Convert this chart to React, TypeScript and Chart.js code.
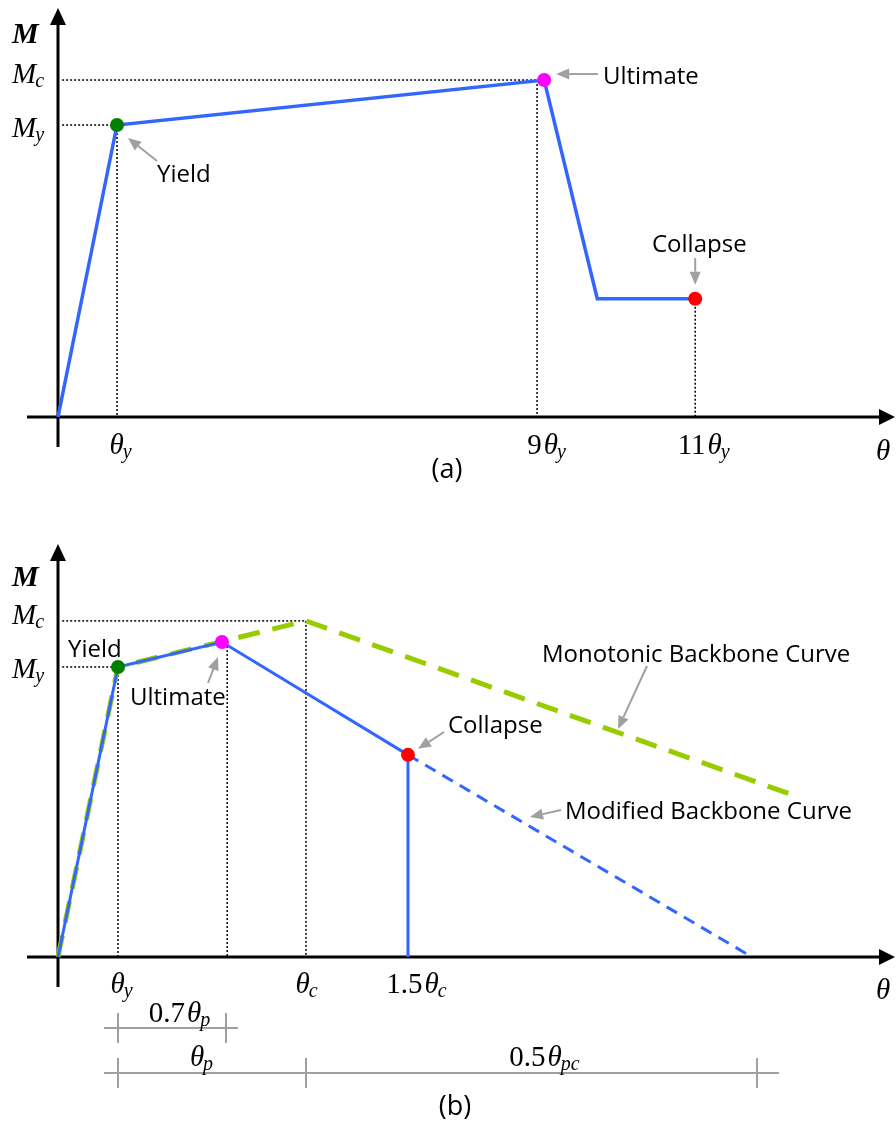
import React, { useEffect, useRef } from "react";
import { Chart, registerables } from "chart.js";
Chart.register(...registerables);

// ---------- Panel (a) data (θ in units of θy, M in units of My; schematic) ----------
const aBackboneX = [0, 1, 8.24, 9.14, 10.8];
const aBackboneY = [0, 1, 1.154, 0.405, 0.405];
const aYield = { x: 1, y: 1 };
const aUltimate = { x: 8.24, y: 1.154 };
const aCollapse = { x: 10.8, y: 0.405 };
const aMy = 1;
const aMc = 1.154;
const aTickValues = [1, 8.12, 10.8];
const aTickLabels: [string, string][][] = [
  [["θ", "i"], ["y", "s"]],
  [["9", "n"], ["θ", "i"], ["y", "s"]],
  [["11", "n"], ["θ", "i"], ["y", "s"]],
];

// ---------- Panel (b) data ----------
const bModX = [0, 1, 2.733, 5.833];
const bModY = [0, 1, 1.086, 0.697];
const bModDashedX = [5.833, 11.567];
const bModDashedY = [0.697, 0];
const bMonoX = [0, 1, 4.133, 12.2];
const bMonoY = [0, 1, 1.159, 0.562];
const bYield = { x: 1, y: 1 };
const bUltimate = { x: 2.733, y: 1.086 };
const bCollapse = { x: 5.833, y: 0.697 };
const bMy = 1;
const bMc = 1.159;
const bUltGuideX = 2.82;
const bTickValues = [1, 4.133, 5.833];
const bTickLabels: [string, string][][] = [
  [["θ", "i"], ["y", "s"]],
  [["θ", "i"], ["c", "s"]],
  [["1.5", "n"], ["θ", "i"], ["c", "s"]],
];
const bDim1Y = -0.245;
const bDim1X = [0.767, 3.0];
const bDim1Ticks = [1, 2.8];
const bDim2Y = -0.4;
const bDim2X = [0.767, 12.017];
const bDim2Ticks = [1, 4.133, 11.65];

const BLUE = "#3366ff";
const GREEN = "#99cc00";
const GRAY = "#a0a0a0";
const SANS = '"Open Sans", "Noto Sans", sans-serif';
const SERIF = '"Liberation Serif", "DejaVu Serif", serif';

type Part = [string, string];

function drawMath(ctx: CanvasRenderingContext2D, parts: Part[], x: number, y: number, align: "left" | "center", size = 29) {
  const subSize = Math.round(size * 0.7);
  const fontFor = (s: string) =>
    s === "n" ? `${size}px ${SERIF}` :
    s === "i" ? `italic ${size}px ${SERIF}` :
    s === "b" ? `italic bold ${size + 1}px ${SERIF}` :
    `italic ${subSize}px ${SERIF}`;
  const gapAfter = (s: string) => (s === "n" ? 2 : 0);
  let total = 0;
  const widths = parts.map(([t, s]) => {
    ctx.font = fontFor(s);
    const w = ctx.measureText(t).width + gapAfter(s);
    total += w;
    return w;
  });
  let cx = align === "center" ? x - total / 2 : x;
  ctx.textAlign = "left";
  ctx.textBaseline = "alphabetic";
  ctx.fillStyle = "#000";
  parts.forEach(([t, s], i) => {
    ctx.font = fontFor(s);
    ctx.fillText(t, s === "s" ? cx - 1 : cx, s === "s" ? y + 4 : y);
    cx += widths[i];
  });
}

function grayArrow(ctx: CanvasRenderingContext2D, x1: number, y1: number, x2: number, y2: number) {
  const ang = Math.atan2(y2 - y1, x2 - x1);
  const hl = 13, hw = 5.5;
  const bx = x2 - hl * Math.cos(ang), by = y2 - hl * Math.sin(ang);
  ctx.save();
  ctx.strokeStyle = GRAY;
  ctx.fillStyle = GRAY;
  ctx.lineWidth = 2;
  ctx.beginPath();
  ctx.moveTo(x1, y1);
  ctx.lineTo(bx, by);
  ctx.stroke();
  ctx.beginPath();
  ctx.moveTo(x2, y2);
  ctx.lineTo(bx + hw * Math.sin(ang), by - hw * Math.cos(ang));
  ctx.lineTo(bx - hw * Math.sin(ang), by + hw * Math.cos(ang));
  ctx.closePath();
  ctx.fill();
  ctx.restore();
}

function sansText(ctx: CanvasRenderingContext2D, t: string, x: number, y: number, align: CanvasTextAlign = "left", size = 24) {
  ctx.font = `${size}px ${SANS}`;
  ctx.fillStyle = "#000";
  ctx.textAlign = align;
  ctx.textBaseline = "alphabetic";
  ctx.fillText(t, x, y);
}

function drawAxes(ctx: CanvasRenderingContext2D, ox: number, oy: number, yTop: number) {
  ctx.save();
  ctx.strokeStyle = "#000";
  ctx.fillStyle = "#000";
  ctx.lineWidth = 3;
  ctx.beginPath();
  ctx.moveTo(27, oy);
  ctx.lineTo(882, oy);
  ctx.moveTo(ox, oy + 30);
  ctx.lineTo(ox, yTop + 14);
  ctx.stroke();
  ctx.beginPath();
  ctx.moveTo(895, oy);
  ctx.lineTo(879, oy - 8);
  ctx.lineTo(879, oy + 8);
  ctx.closePath();
  ctx.fill();
  ctx.beginPath();
  ctx.moveTo(ox, yTop);
  ctx.lineTo(ox - 8, yTop + 17);
  ctx.lineTo(ox + 8, yTop + 17);
  ctx.closePath();
  ctx.fill();
  ctx.restore();
}

const seg = (xs: number[], ys: number[], color: string, width: number, dash: number[] = [], order = 5) => ({
  data: xs.map((x, i) => ({ x, y: ys[i] })),
  showLine: true,
  borderColor: color,
  backgroundColor: color,
  borderWidth: width,
  borderDash: dash,
  pointRadius: 0,
  order,
});
const dotted = (xs: number[], ys: number[]) => seg(xs, ys, "#000", 1.5, [2, 2], 9);
const marker = (p: { x: number; y: number }, color: string) => ({
  data: [p],
  showLine: false,
  pointRadius: 7,
  pointBackgroundColor: color,
  pointBorderColor: color,
  pointBorderWidth: 0,
  order: 0,
});

function baseOptions(xmin: number, xmax: number, ymin: number, ymax: number) {
  return {
    responsive: false,
    animation: false as const,
    events: [],
    layout: { padding: 0, autoPadding: false },
    plugins: { legend: { display: false }, tooltip: { enabled: false } },
    scales: {
      x: { type: "linear" as const, display: false, min: xmin, max: xmax },
      y: { type: "linear" as const, display: false, min: ymin, max: ymax },
    },
  };
}

export default function App() {
  const refA = useRef<HTMLCanvasElement>(null);
  const refB = useRef<HTMLCanvasElement>(null);

  useEffect(() => {
    // ---- Panel (a) ----
    const KxA = 59, KyA = 292, oxA = 58, oyA = 417, hA = 500;
    const plugA = {
      id: "decorA",
      beforeDatasetsDraw(chart: any) {
        const ctx = chart.ctx;
        const X = (v: number) => chart.scales.x.getPixelForValue(v);
        const Y = (v: number) => chart.scales.y.getPixelForValue(v);
        drawAxes(ctx, X(0), Y(0), 8);
      },
      afterDatasetsDraw(chart: any) {
        const ctx = chart.ctx;
        const X = (v: number) => chart.scales.x.getPixelForValue(v);
        const Y = (v: number) => chart.scales.y.getPixelForValue(v);
        drawMath(ctx, [["M", "b"]], 12, 43, "left");
        drawMath(ctx, [["M", "i"], ["c", "s"]], 12, Y(aMc) + 3, "left");
        drawMath(ctx, [["M", "i"], ["y", "s"]], 12, Y(aMy) + 12, "left");
        const dx = [4, 10, 9];
        aTickValues.forEach((v, i) => drawMath(ctx, aTickLabels[i], X(v) + dx[i], Y(0) + 37, "center"));
        drawMath(ctx, [["θ", "i"]], 883, Y(0) + 43, "center");
        sansText(ctx, "(a)", 447, 478, "center", 27);
        sansText(ctx, "Yield", 157, 182);
        grayArrow(ctx, 157, 161, X(aYield.x) + 11, Y(aYield.y) + 13);
        sansText(ctx, "Ultimate", 603, 84);
        grayArrow(ctx, 598, Y(aUltimate.y) - 6, X(aUltimate.x) + 12, Y(aUltimate.y) - 6);
        sansText(ctx, "Collapse", 652, 252);
        grayArrow(ctx, X(aCollapse.x), 258, X(aCollapse.x), Y(aCollapse.y) - 14);
      },
    };
    const chartA = new Chart(refA.current!, {
      type: "scatter",
      data: {
        datasets: [
          marker(aYield, "#008000"),
          marker(aUltimate, "#ff00ff"),
          marker(aCollapse, "#ff0000"),
          seg(aBackboneX, aBackboneY, BLUE, 3.5),
          dotted([0.07, aYield.x], [aMy, aMy]),
          dotted([0.07, aUltimate.x], [aMc, aMc]),
          dotted([aYield.x, aYield.x], [aMy, 0]),
          dotted([aTickValues[1], aTickValues[1]], [aMc, 0]),
          dotted([aCollapse.x, aCollapse.x], [aCollapse.y, 0]),
        ] as any,
      },
      options: baseOptions(-oxA / KxA, (896 - oxA) / KxA, -(hA - oyA) / KyA, oyA / KyA) as any,
      plugins: [plugA],
    });

    // ---- Panel (b) ----
    const KxB = 60, KyB = 290, oxB = 58, oyB = 457, hB = 624;
    const plugB = {
      id: "decorB",
      beforeDatasetsDraw(chart: any) {
        const ctx = chart.ctx;
        const X = (v: number) => chart.scales.x.getPixelForValue(v);
        const Y = (v: number) => chart.scales.y.getPixelForValue(v);
        drawAxes(ctx, X(0), Y(0), 44);
      },
      afterDatasetsDraw(chart: any) {
        const ctx = chart.ctx;
        const X = (v: number) => chart.scales.x.getPixelForValue(v);
        const Y = (v: number) => chart.scales.y.getPixelForValue(v);
        drawMath(ctx, [["M", "b"]], 12, 86, "left");
        drawMath(ctx, [["M", "i"], ["c", "s"]], 12, Y(bMc) + 3, "left");
        drawMath(ctx, [["M", "i"], ["y", "s"]], 12, Y(bMy) + 11, "left");
        const dx = [4, 1, 9];
        bTickValues.forEach((v, i) => drawMath(ctx, bTickLabels[i], X(v) + dx[i], Y(0) + 36, "center"));
        drawMath(ctx, [["θ", "i"]], 883, Y(0) + 42, "center");
        drawMath(ctx, [["0.7", "n"], ["θ", "i"], ["p", "s"]], 180, Y(bDim1Y) - 6, "center");
        drawMath(ctx, [["θ", "i"], ["p", "s"]], 202, Y(bDim2Y) - 7, "center");
        drawMath(ctx, [["0.5", "n"], ["θ", "i"], ["pc", "s"]], 545, Y(bDim2Y) - 7, "center");
        sansText(ctx, "(b)", 455, 615, "center", 27);
        sansText(ctx, "Yield", 68, 157);
        sansText(ctx, "Ultimate", 130, 205);
        grayArrow(ctx, 208, 183, X(bUltimate.x) - 4, Y(bUltimate.y) + 15);
        sansText(ctx, "Collapse", 448, 233);
        grayArrow(ctx, 444, 232, X(bCollapse.x) + 10, Y(bCollapse.y) - 6);
        sansText(ctx, "Monotonic Backbone Curve", 542, 162);
        grayArrow(ctx, 647, 166, 618, 229);
        sansText(ctx, "Modified Backbone Curve", 565, 319);
        grayArrow(ctx, 561, 310, 530, 317);
      },
    };
    const tickPts = (xs: number[], y: number) => ({
      data: xs.map((x) => ({ x, y })),
      showLine: false,
      pointStyle: "line",
      rotation: 90,
      pointRadius: 15,
      pointBorderColor: GRAY,
      pointBorderWidth: 2,
      order: 8,
    });
    const chartB = new Chart(refB.current!, {
      type: "scatter",
      data: {
        datasets: [
          marker(bYield, "#008000"),
          marker(bUltimate, "#ff00ff"),
          marker(bCollapse, "#ff0000"),
          seg(bModX, bModY, BLUE, 3, [], 3),
          seg([bCollapse.x, bCollapse.x], [bCollapse.y, 0], BLUE, 3, [], 3),
          seg(bModDashedX, bModDashedY, BLUE, 3, [12, 8], 3),
          seg(bMonoX, bMonoY, GREEN, 5, [22, 13], 4),
          dotted([0.07, bYield.x], [bMy, bMy]),
          dotted([0.07, bMonoX[2]], [bMc, bMc]),
          dotted([bYield.x, bYield.x], [bMy, 0]),
          dotted([bUltGuideX, bUltGuideX], [bUltimate.y, 0]),
          dotted([bMonoX[2], bMonoX[2]], [bMc, 0]),
          seg(bDim1X, [bDim1Y, bDim1Y], GRAY, 2, [], 8),
          seg(bDim2X, [bDim2Y, bDim2Y], GRAY, 2, [], 8),
          tickPts(bDim1Ticks, bDim1Y),
          tickPts(bDim2Ticks, bDim2Y),
        ] as any,
      },
      options: baseOptions(-oxB / KxB, (896 - oxB) / KxB, -(hB - oyB) / KyB, oyB / KyB) as any,
      plugins: [plugB],
    });

    return () => {
      chartA.destroy();
      chartB.destroy();
    };
  }, []);

  return (
    <div style={{ position: "absolute", left: 0, top: 0, width: 896, height: 1124, background: "#fff" }}>
      <canvas ref={refA} width={896} height={500} style={{ display: "block", width: 896, height: 500 }} />
      <canvas ref={refB} width={896} height={624} style={{ display: "block", width: 896, height: 624 }} />
    </div>
  );
}
